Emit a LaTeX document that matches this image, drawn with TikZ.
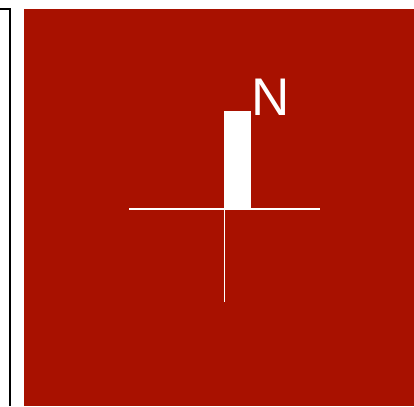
\documentclass[tikz,border=0pt]{standalone}
\usepackage{fontspec}
\setmainfont{Liberation Sans}
\usepackage{tikz}
\definecolor{mapred}{RGB}{168,17,0}

\begin{document}
\begin{tikzpicture}[x=1pt, y=-1pt]
    \useasboundingbox (0,0) rectangle (414,406);

    % Frame
    \draw[black, line width=1.5pt] (0,9) -- (10,9) -- (10,406);
    \fill[mapred] (24,9) rectangle (414,406);

    % Cross
    \draw[white, line width=1.3pt] (129,209) -- (320,209);
    \draw[white, line width=1.3pt] (224.5,209) -- (224.5,302);

    % Needle
    \fill[white] (224,111) rectangle (251,209);
    \node[white, anchor=south west, inner sep=0pt, font=\fontsize{53}{60}\selectfont] (north) at (251,116) {N};
\end{tikzpicture}
\end{document}
